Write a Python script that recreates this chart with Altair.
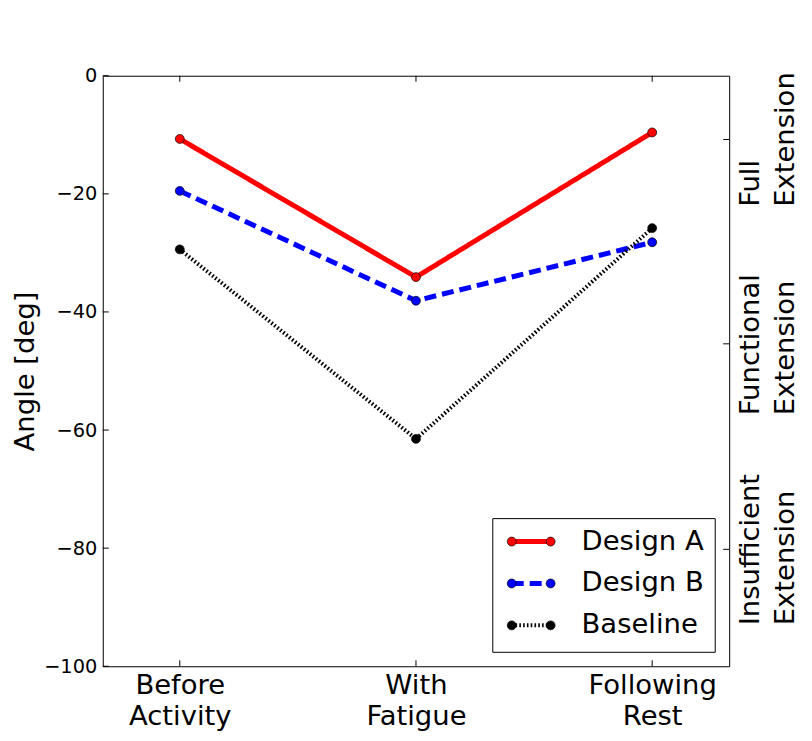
import altair as alt
import pandas as pd

# ---- data ----
categories = ["Before Activity", "With Fatigue", "Following Rest"]
series_names = ["Design A", "Design B", "Baseline"]
design_a = [-10.7, -34.1, -9.6]
design_b = [-19.5, -38.1, -28.2]
baseline = [-29.4, -61.5, -25.8]
y_ticks = [0, -20, -40, -60, -80, -100]
right_ticks = [-10.8, -45.4, -80.2]
right_line1 = ["Full", "Functional", "Insufficient"]
right_line2 = ["Extension", "Extension", "Extension"]

W, H = 628, 592
FONT = "DejaVu Sans"
BIG = 27.5

# approximate DejaVu Sans advance widths (em) used to centre the longest line
CW = {"F": .575, "u": .634, "l": .278, "E": .632, "x": .592, "t": .392, "e": .615,
      "n": .634, "s": .521, "i": .278, "o": .612, "c": .550, "a": .613, "I": .295, "f": .352}


def text_w(s):
    return sum(CW.get(ch, .6) for ch in s) * BIG


styles = {
    "Design A": dict(color="#ff0000", width=5, dash=[1, 0]),
    "Design B": dict(color="#0000ff", width=5, dash=[12, 6]),
    "Baseline": dict(color="#000000", width=4, dash=[1.6, 2.2]),
}

rows = []
for name, vals in zip(series_names, [design_a, design_b, baseline]):
    for c, v in zip(categories, vals):
        rows.append({"category": c, "value": v, "series": name})
df = pd.DataFrame(rows)

ytick_df = pd.DataFrame({"value": y_ticks})
rtick_df = pd.DataFrame({"value": right_ticks, "l1": right_line1, "l2": right_line2})
# anchor of the (left-aligned, rotated) label block: bottom end of its longest line
rtick_df["anchor"] = [
    v - (max(text_w(a), text_w(b)) / 2) * 100.0 / H
    for v, a, b in zip(right_ticks, right_line1, right_line2)
]
cat_df = pd.DataFrame({"category": categories})
one = pd.DataFrame({"a": [0]})

x_scale = alt.Scale(type="point", domain=categories, padding=0.326)
y_scale = alt.Scale(domain=[-100, 0], nice=False, zero=False)

x_axis = alt.Axis(
    labelExpr="split(datum.label, ' ')",
    labelAngle=0,
    labelFontSize=BIG,
    labelLineHeight=31,
    labelPadding=5,
    ticks=False,
    domain=False,
    grid=False,
    title=None,
    labelFont=FONT,
    labelColor="black",
)
y_axis = alt.Axis(
    values=y_ticks,
    labelExpr="(datum.value < 0 ? '\u2212' : '') + format(abs(datum.value), 'd')",
    ticks=False,
    domain=False,
    grid=False,
    labelFontSize=19.4,
    labelPadding=6,
    labelFont=FONT,
    labelColor="black",
    title="Angle [deg]",
    titleFontSize=BIG,
    titleFontWeight="normal",
    titleFont=FONT,
    titleColor="black",
    titlePadding=4,
)


def X():
    return alt.X("category:N", scale=x_scale, axis=x_axis, title=None)


def Y(field="value"):
    return alt.Y(f"{field}:Q", scale=y_scale, axis=y_axis, title="Angle [deg]")


layers = []
for name in series_names:
    s = styles[name]
    base = alt.Chart(df).transform_filter(alt.datum.series == name)
    layers.append(
        base.mark_line(color=s["color"], strokeWidth=s["width"], strokeDash=s["dash"]).encode(x=X(), y=Y())
    )
for name in series_names:
    s = styles[name]
    base = alt.Chart(df).transform_filter(alt.datum.series == name)
    layers.append(
        base.mark_circle(size=80, fill=s["color"], stroke="black", strokeWidth=0.7, opacity=1).encode(
            x=X(), y=Y()
        )
    )

# inward tick marks
left_ticks = alt.Chart(ytick_df).mark_rule(color="black", strokeWidth=1).encode(
    y=Y(), x=alt.value(0), x2=alt.value(6)
)
right_tick_marks = alt.Chart(rtick_df).mark_rule(color="black", strokeWidth=1).encode(
    y=Y(), x=alt.value(W - 6), x2=alt.value(W)
)
bottom_ticks = alt.Chart(cat_df).mark_rule(color="black", strokeWidth=1).encode(
    x=X(), y=alt.value(H - 6), y2=alt.value(H)
)
top_ticks = alt.Chart(cat_df).mark_rule(color="black", strokeWidth=1).encode(
    x=X(), y=alt.value(0), y2=alt.value(6)
)
right_text1 = alt.Chart(rtick_df).mark_text(
    angle=270, align="left", baseline="alphabetic", fontSize=BIG, font=FONT, color="black",
).encode(y=Y("anchor"), x=alt.value(W + 30), text="l1:N")
right_text2 = alt.Chart(rtick_df).mark_text(
    angle=270, align="left", baseline="alphabetic", fontSize=BIG, font=FONT, color="black",
).encode(y=Y("anchor"), x=alt.value(W + 65), text="l2:N")

layers += [left_ticks, right_tick_marks, bottom_ticks, top_ticks, right_text1, right_text2]

# legend box
lx0, lx1, ly0, ly1 = 391, 614, 444, 578
legend = [
    alt.Chart(one).mark_rect(fill="white", stroke="black", strokeWidth=1).encode(
        x=alt.value(lx0), x2=alt.value(lx1), y=alt.value(ly0), y2=alt.value(ly1)
    )
]
for i, name in enumerate(series_names):
    s = styles[name]
    yy = 467 + 42 * i
    legend.append(
        alt.Chart(one).mark_rule(color=s["color"], strokeWidth=s["width"], strokeDash=s["dash"]).encode(
            x=alt.value(410), x2=alt.value(449), y=alt.value(yy)
        )
    )
    for xx in (410, 449):
        legend.append(
            alt.Chart(one).mark_circle(size=80, fill=s["color"], stroke="black", strokeWidth=0.7, opacity=1).encode(
                x=alt.value(xx), y=alt.value(yy)
            )
        )
    legend.append(
        alt.Chart(one).mark_text(align="left", baseline="middle", fontSize=BIG, font=FONT, color="black").encode(
            x=alt.value(480), y=alt.value(yy), text=alt.value(name)
        )
    )

chart = (
    alt.layer(*layers, *legend)
    .properties(
        width=W,
        height=H,
        autosize=alt.AutoSizeParams(type="none"),
        padding={"left": 95, "top": 67, "right": 75, "bottom": 66},
    )
    .configure(font=FONT, background="white")
    .configure_view(stroke="black", strokeWidth=1)
)

chart.save("out.html", embed_options={"renderer": "svg", "actions": False})
